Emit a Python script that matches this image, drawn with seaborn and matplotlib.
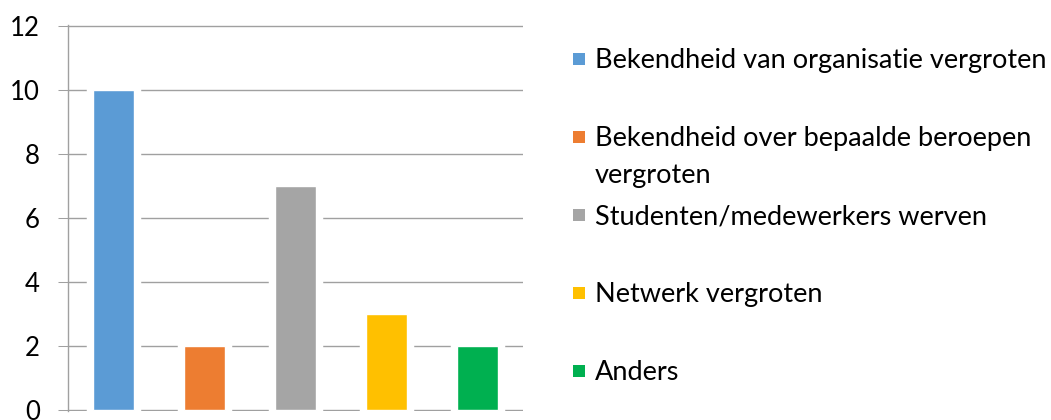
import matplotlib
matplotlib.use("Agg")
import matplotlib.pyplot as plt
from matplotlib.patches import Rectangle
import seaborn as sns
import pandas as pd

categories = [
    "Bekendheid van organisatie vergroten",
    "Bekendheid over bepaalde beroepen\nvergroten",
    "Studenten/medewerkers werven",
    "Netwerk vergroten",
    "Anders",
]
values = [10, 2, 7, 3, 2]
colors = ["#5B9BD5", "#ED7D31", "#A5A5A5", "#FFC000", "#00B050"]
y_ticks = [0, 2, 4, 6, 8, 10, 12]

sns.set_theme(style="white")
plt.rcParams["font.family"] = ["Lato", "DejaVu Sans"]

W, H = 1051, 420
grid_color = "#A0A0A0"

fig = plt.figure(figsize=(W / 100, H / 100), dpi=100)
ax = fig.add_axes([68 / W, 1 - 411 / H, (523 - 68) / W, (411 - 25) / H])

df = pd.DataFrame({"category": categories, "value": values})

# white halo behind each bar breaks the gridlines (Excel look)
sns.barplot(data=df, x="category", y="value", color="white", width=0.56,
            saturation=1, edgecolor="white", linewidth=2.5, ax=ax, zorder=2)
sns.barplot(data=df, x="category", y="value", hue="category", palette=colors,
            width=0.46, saturation=1, edgecolor="white", linewidth=1,
            legend=False, ax=ax, zorder=3)

ax.set_ylim(-0.04, 12.04)
ax.set_yticks(y_ticks)
ax.set_yticklabels([str(t) for t in y_ticks])
ax.grid(axis="y", color=grid_color, linewidth=1)
ax.set_axisbelow(True)
ax.set_xticklabels([])
ax.set_xlabel("")
ax.set_ylabel("")
ax.tick_params(axis="x", bottom=False)
ax.tick_params(axis="y", left=True, direction="out", length=7.2, width=0.75,
               color=grid_color, pad=13, labelsize=18.5, labelcolor="black")
for side in ["top", "right", "bottom"]:
    ax.spines[side].set_visible(False)
ax.spines["left"].set_color(grid_color)
ax.spines["left"].set_linewidth(1)

# legend on the right, handle aligned with first line of each label
for i, (label, color) in enumerate(zip(categories, colors)):
    yb = 68 + 78.1 * i
    fig.add_artist(Rectangle((573 / W, 1 - (yb - 3) / H), 12 / W, 12 / H,
                             transform=fig.transFigure, facecolor=color,
                             edgecolor="none"))
    for j, line in enumerate(label.split("\n")):
        fig.text(595 / W, 1 - (yb + 37 * j) / H, line, va="baseline",
                 ha="left", fontsize=19.5, color="black")

fig.savefig("out.png", dpi=100)
